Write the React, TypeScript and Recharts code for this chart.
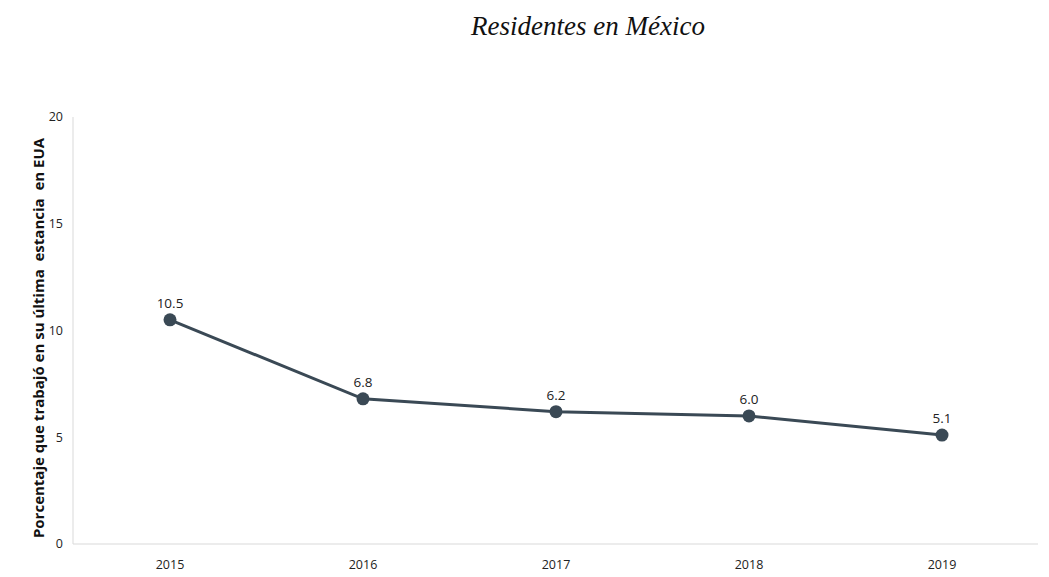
import { LineChart, Line, XAxis, YAxis, LabelList } from 'recharts';

const years = ['2015', '2016', '2017', '2018', '2019'];
const porcentaje = [10.5, 6.8, 6.2, 6.0, 5.1];
const yTicks = [0, 5, 10, 15, 20];

const data = years.map((year, i) => ({ year, value: porcentaje[i] }));

const SERIES_COLOR = '#3a4955';
const AXIS_COLOR = '#d9d9d9';
const TEXT_FONT = '"Open Sans", "Liberation Sans", sans-serif';

export default function App() {
  return (
    <div style={{ position: 'absolute', left: 0, top: 0, width: 1049, height: 577, background: '#fff' }}>
      <div
        style={{
          position: 'absolute',
          left: 388,
          top: 11,
          width: 400,
          textAlign: 'center',
          fontFamily: '"Liberation Serif", "DejaVu Serif", serif',
          fontStyle: 'italic',
          fontSize: 27,
          color: '#111',
        }}
      >
        Residentes en México
      </div>
      <LineChart
        width={1049}
        height={577}
        data={data}
        margin={{ top: 117, right: 11, left: 0, bottom: 3 }}
      >
        <XAxis
          dataKey="year"
          stroke={AXIS_COLOR}
          tickLine={false}
          tickMargin={10}
          padding={{ left: 97, right: 96 }}
          tick={{ fill: '#222', fontSize: 12.5, fontFamily: TEXT_FONT }}
        />
        <YAxis
          width={73}
          domain={[0, 20]}
          ticks={yTicks}
          stroke={AXIS_COLOR}
          tickLine={false}
          tickSize={0}
          tickMargin={10}
          tick={{ fill: '#222', fontSize: 12.5, fontFamily: TEXT_FONT }}
          label={{
            content: () => (
              <text
                x={38}
                y={338}
                transform="rotate(-90 38 338)"
                textAnchor="middle"
                dominantBaseline="central"
                fontSize={15}
                fontWeight="bold"
                fontFamily={TEXT_FONT}
                fill="#111"
                style={{ whiteSpace: 'pre' }}
              >
                {'Porcentaje que trabajó en su última  estancia  en EUA'}
              </text>
            ),
          }}
        />
        <Line
          type="linear"
          dataKey="value"
          stroke={SERIES_COLOR}
          strokeWidth={3}
          dot={{ r: 6.5, fill: SERIES_COLOR, stroke: SERIES_COLOR, strokeWidth: 0 }}
          isAnimationActive={false}
        >
          <LabelList
            dataKey="value"
            position="top"
            offset={12}
            formatter={(v: any) => Number(v).toFixed(1)}
            style={{ fill: '#222', fontSize: 13.5, fontFamily: TEXT_FONT }}
          />
        </Line>
      </LineChart>
    </div>
  );
}
